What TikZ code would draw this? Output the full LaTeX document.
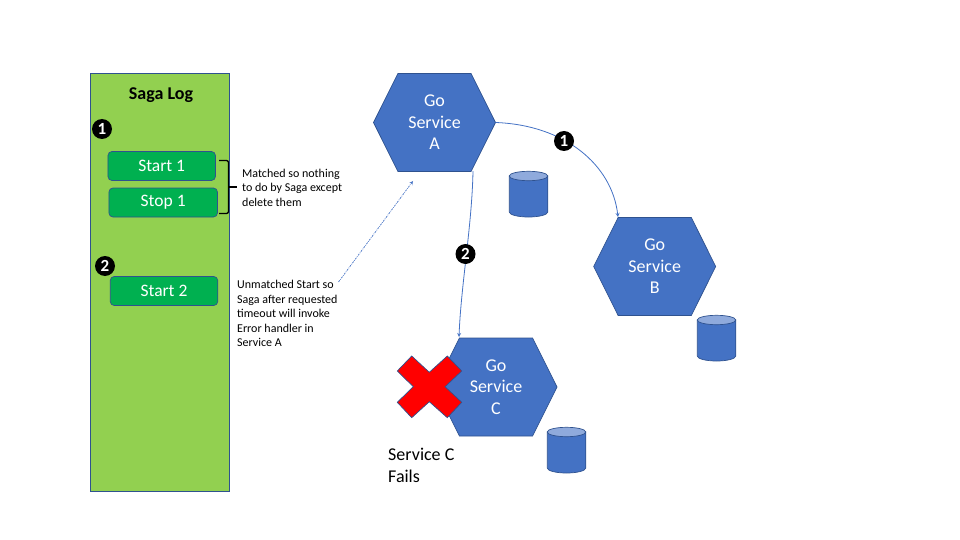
\documentclass[tikz,border=0pt]{standalone}
\usepackage{fontspec}
\setmainfont{Carlito}
\usetikzlibrary{shapes.symbols}
\definecolor{logGreen}{HTML}{92D050}
\definecolor{boxGreen}{HTML}{00B050}
\definecolor{svcBlue}{HTML}{4472C4}
\definecolor{svcEdge}{HTML}{2F528F}
\definecolor{dbTop}{HTML}{8FAADC}
\tikzset{
  svc/.style={shape=signal, signal to=east and west, signal pointer angle=127,
    minimum width=122pt, minimum height=98pt, inner sep=0pt, outer sep=0pt,
    draw=svcEdge, fill=svcBlue, line width=0.7pt, text=white, align=center,
    font=\fontsize{18}{21.5}\selectfont},
  logbox/.style={draw=svcEdge, fill=boxGreen, rounded corners=4pt, line width=0.7pt,
    minimum width=107.5pt, minimum height=29pt, inner sep=0pt, outer sep=0pt,
    text=white, font=\fontsize{17.5}{19}\selectfont},
  db/.pic={
    \draw[draw=svcEdge, fill=svcBlue, line width=0.7pt] (-19.25,-18) -- (-19.25,18)
      arc[start angle=180, end angle=0, x radius=19.25, y radius=5] -- (19.25,-18) -- cycle;
    \draw[draw=svcEdge, fill=dbTop, line width=0.7pt] (0,-18) ellipse [x radius=19.25, y radius=4.7];
  },
  badge/.style={circle, fill=black, text=white, minimum size=20pt, inner sep=0pt,
    font=\fontsize{17}{17}\selectfont\bfseries},
  note/.style={align=left, inner sep=0pt, anchor=west,
    font=\fontsize{12}{14.5}\selectfont},
  link/.style={->, draw=svcBlue, line width=0.8pt}
}
\begin{document}
\begin{tikzpicture}[>=stealth, x=1pt, y=-1pt]
  \useasboundingbox (0,0) rectangle (960,540);

  % --- Saga log column ---
  \node[draw=svcEdge, fill=logGreen, line width=0.7pt, minimum width=139pt, minimum height=418pt,
    inner sep=0pt] (sagalog) at (160,282) {};
  \node[font=\fontsize{18}{19}\selectfont\bfseries] (sagatitle) at (161,95.5) {Saga Log};
  \node[logbox] (start1) at (161.7,166) {Start 1};
  \node[logbox, minimum width=108.5pt] (stop1) at (163.2,202.5) {Stop 1};
  \node[logbox] (start2) at (164,291) {Start 2};
  \node[badge] (log1) at (102,129) {1};
  \node[badge] (log2) at (105,266) {2};

  % Bracket around the matched pair
  \draw[black, line width=1.3pt, rounded corners=2pt] (219,160.5) -- (228.5,160.5) -- (228.5,213.5) -- (219,213.5);
  \draw[black, line width=1.3pt] (228.5,187) -- (237,187);

  % Notes
  \node[note] (matched) at (242,187.5) {Matched so nothing\\to do by Saga except\\delete them};
  \node[note] (unmatched) at (237,313.5) {Unmatched Start so\\Saga after requested\\timeout will invoke\\Error handler in\\Service A};

  % --- Services ---
  \node[svc] (svca) at (434.5,122.5) {Go\\Service\\A};
  \node[svc] (svcb) at (654.7,266.5) {Go\\Service\\B};
  \node[svc] (svcc) at (496,387) {Go\\Service\\C};

  % Databases
  \pic at (528.5,194) {db};
  \pic at (716.5,338) {db};
  \pic at (566.5,450) {db};

  % Calls between services
  \coordinate (ato) at (618,217);
  \coordinate (afrom) at (473,171);
  \coordinate (cto) at (459,337);
  \draw[link] (svca.east) .. controls (565,125) and (612,165) .. (ato);
  \draw[link] (afrom) .. controls (472,225) and (461,285) .. (cto);
  \node[badge] (call1) at (564,141) {1};
  \node[badge] (call2) at (465.5,254) {2};

  % Dotted pointer from the note to service A
  \coordinate (notetip) at (338.5,282);
  \coordinate (svctip) at (413,181);
  \draw[->, draw=svcBlue, line width=0.7pt, dash pattern=on 2pt off 1pt on 0.7pt off 1pt] (notetip) -- (svctip);

  % --- Failure cross ---
  \draw[fill=red, draw=svcEdge, line width=0.7pt]
    (411.7,356) -- (429.3,372.3) -- (447.3,356) -- (461.7,371) -- (445,386.7) -- (461.7,402.3)
    -- (447.3,417.7) -- (429.3,401.7) -- (411.7,417.7) -- (397.3,402.3) -- (413.3,386.7) -- (397.3,371) -- cycle;
  \node[align=left, inner sep=0pt, anchor=west, font=\fontsize{18}{21.5}\selectfont] (failtext) at (388,465.5) {Service C\\Fails};
\end{tikzpicture}
\end{document}
